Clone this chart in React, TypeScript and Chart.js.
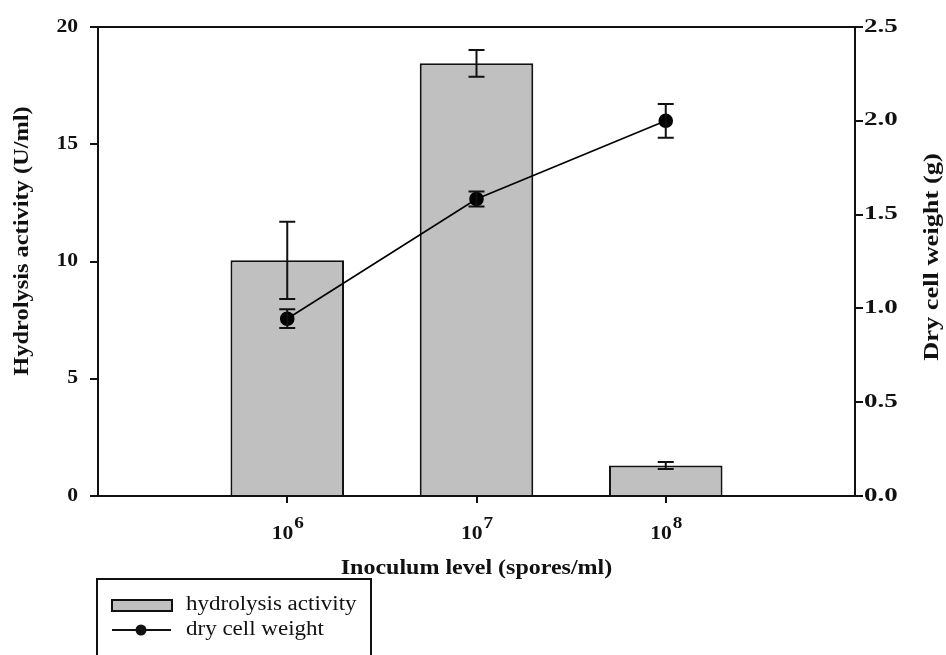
import React, { useEffect, useRef } from "react";
import { Chart, registerables } from "chart.js";

Chart.register(...registerables);

// Inoculum levels are powers of ten: 10^6, 10^7, 10^8 spores/ml
const inoculumBase = "10";
const inoculumExponents = ["6", "7", "8"];

// Hydrolysis activity (U/ml), mean and error
const hydrolysisActivity = [10.05, 18.45, 1.3];
const hydrolysisError = [1.65, 0.57, 0.15];

// Dry cell weight (g), mean and error
const dryCellWeight = [0.945, 1.583, 2.0];
const dryCellError = [0.05, 0.04, 0.09];

const xTitle = "Inoculum level (spores/ml)";
const yTitle = "Hydrolysis activity (U/ml)";
const y1Title = "Dry cell weight (g)";
const barLabel = "hydrolysis activity";
const lineLabel = "dry cell weight";

const SERIF = "'Liberation Serif', 'Times New Roman', serif";
const INK = "#111";
const BAR_FILL = "#c0c0c0";
const LINE_W = 2;

function drawText(
  ctx: CanvasRenderingContext2D,
  text: string,
  x: number,
  y: number,
  font: string,
  align: CanvasTextAlign,
  stretch: number,
  angle = 0
) {
  ctx.save();
  ctx.translate(x, y);
  ctx.rotate(angle);
  ctx.scale(stretch, 1);
  ctx.font = font;
  ctx.fillStyle = INK;
  ctx.textAlign = align;
  ctx.textBaseline = "middle";
  ctx.fillText(text, 0, 0);
  ctx.restore();
}

const errorBarPlugin = {
  id: "errorBars",
  afterDatasetDraw(chart: any, args: any) {
    const ds = chart.data.datasets[args.index];
    const errs: number[] | undefined = ds.errors;
    if (!errs) return;
    const meta = args.meta;
    const scale = chart.scales[meta.yAxisID];
    const ctx = chart.ctx;
    ctx.save();
    ctx.strokeStyle = INK;
    ctx.lineWidth = LINE_W;
    meta.data.forEach((el: any, i: number) => {
      const v = ds.data[i].y;
      const x = el.x;
      const yTop = scale.getPixelForValue(v + errs[i]);
      const yBot = scale.getPixelForValue(v - errs[i]);
      ctx.beginPath();
      ctx.moveTo(x, yTop);
      ctx.lineTo(x, yBot);
      ctx.moveTo(x - 8, yTop);
      ctx.lineTo(x + 8, yTop);
      ctx.moveTo(x - 8, yBot);
      ctx.lineTo(x + 8, yBot);
      ctx.stroke();
    });
    ctx.restore();
  },
};

const decorPlugin = {
  id: "decor",
  afterDraw(chart: any) {
    const ctx: CanvasRenderingContext2D = chart.ctx;
    const area = chart.chartArea;
    const { x, y, y1 } = chart.scales;

    // frame line along the top of the plot
    ctx.save();
    ctx.strokeStyle = INK;
    ctx.lineWidth = LINE_W;
    ctx.beginPath();
    ctx.moveTo(area.left, area.top);
    ctx.lineTo(area.right, area.top);
    ctx.stroke();
    ctx.restore();

    const tickFont = `bold 18px ${SERIF}`;
    const expFont = `bold 16px ${SERIF}`;
    const titleFont = `bold 20px ${SERIF}`;

    // left axis tick labels
    y.ticks.forEach((t: any) => {
      drawText(ctx, String(t.value), area.left - 20, y.getPixelForValue(t.value), tickFont, "right", 1.2);
    });
    // right axis tick labels
    y1.ticks.forEach((t: any) => {
      drawText(ctx, Number(t.value).toFixed(1), area.right + 9, y1.getPixelForValue(t.value), tickFont, "left", 1.5);
    });
    // x tick labels as powers of ten
    x.ticks.forEach((t: any, i: number) => {
      const exp = inoculumExponents[i];
      if (exp === undefined) return;
      ctx.save();
      ctx.font = tickFont;
      const wb = ctx.measureText(inoculumBase).width * 1.2;
      ctx.font = expFont;
      const we = ctx.measureText(exp).width * 1.2;
      ctx.restore();
      const cx = x.getPixelForValue(t.value);
      const start = cx - (wb + we) / 2;
      drawText(ctx, inoculumBase, start, area.bottom + 38, tickFont, "left", 1.2);
      drawText(ctx, exp, start + wb + 1, area.bottom + 28, expFont, "left", 1.2);
    });

    // axis titles
    drawText(ctx, xTitle, (area.left + area.right) / 2, area.bottom + 73, titleFont, "center", 1.2);
    drawText(ctx, yTitle, 23, 241, titleFont, "center", 1.22, -Math.PI / 2);
    drawText(ctx, y1Title, 933, 257, titleFont, "center", 1.32, -Math.PI / 2);

    // legend box
    const lx = 97;
    const ly = 579;
    ctx.save();
    ctx.strokeStyle = INK;
    ctx.lineWidth = LINE_W;
    ctx.strokeRect(lx, ly, 274, 90);
    ctx.fillStyle = BAR_FILL;
    ctx.fillRect(lx + 15, 600, 60, 11);
    ctx.strokeRect(lx + 15, 600, 60, 11);
    ctx.beginPath();
    ctx.moveTo(lx + 15, 630);
    ctx.lineTo(lx + 74, 630);
    ctx.stroke();
    ctx.fillStyle = INK;
    ctx.beginPath();
    ctx.arc(lx + 44, 630, 5.5, 0, Math.PI * 2);
    ctx.fill();
    ctx.restore();
    const legendFont = `20px ${SERIF}`;
    drawText(ctx, chart.data.datasets[0].label, lx + 89, 605, legendFont, "left", 1.15);
    drawText(ctx, chart.data.datasets[1].label, lx + 89, 630, legendFont, "left", 1.15);
  },
};

export default function App() {
  const canvasRef = useRef<HTMLCanvasElement | null>(null);

  useEffect(() => {
    const canvas = canvasRef.current;
    if (!canvas) return;
    const axisGrid = {
      display: true,
      drawOnChartArea: false,
      drawTicks: true,
      tickLength: 8,
      color: INK,
      lineWidth: LINE_W,
    };
    const axisBorder = { display: true, color: INK, width: LINE_W };

    const chart = new Chart(canvas, {
      type: "bar",
      data: {
        datasets: [
          {
            type: "bar",
            label: barLabel,
            data: hydrolysisActivity.map((v, i) => ({ x: i + 1, y: v })),
            errors: hydrolysisError,
            backgroundColor: BAR_FILL,
            borderColor: INK,
            borderWidth: LINE_W,
            barPercentage: 0.6,
            categoryPercentage: 1,
            yAxisID: "y",
            order: 2,
          } as any,
          {
            type: "line",
            label: lineLabel,
            data: dryCellWeight.map((v, i) => ({ x: i + 1, y: v })),
            errors: dryCellError,
            borderColor: "#000",
            borderWidth: 1.6,
            pointRadius: 6.5,
            pointBackgroundColor: "#000",
            pointBorderColor: "#000",
            tension: 0,
            yAxisID: "y1",
            order: 1,
          } as any,
        ],
      },
      options: {
        animation: false,
        responsive: false,
        devicePixelRatio: 1,
        layout: { padding: { top: 27, left: 0, right: 0, bottom: 0 } },
        plugins: { legend: { display: false }, tooltip: { enabled: false } },
        scales: {
          x: {
            type: "linear",
            min: 0,
            max: inoculumExponents.length + 1,
            offset: false,
            afterBuildTicks: (axis: any) => {
              axis.ticks = inoculumExponents.map((_, i) => ({ value: i + 1 }));
            },
            afterFit: (axis: any) => {
              axis.height = 159;
            },
            ticks: { display: false },
            grid: { ...axisGrid, tickLength: 7, offset: false },
            border: axisBorder,
          },
          y: {
            position: "left",
            min: 0,
            max: 20,
            ticks: { display: false, stepSize: 5 },
            afterFit: (axis: any) => {
              axis.width = 98;
            },
            grid: axisGrid,
            border: axisBorder,
          },
          y1: {
            position: "right",
            min: 0,
            max: 2.5,
            ticks: { display: false, stepSize: 0.5 },
            afterFit: (axis: any) => {
              axis.width = 91;
            },
            grid: axisGrid,
            border: axisBorder,
          },
        },
      } as any,
      plugins: [errorBarPlugin, decorPlugin],
    });
    return () => chart.destroy();
  }, []);

  return (
    <div style={{ position: "absolute", left: 0, top: 0, width: 946, height: 655, background: "#fff", overflow: "hidden" }}>
      <canvas ref={canvasRef} width={946} height={655} style={{ display: "block" }} />
    </div>
  );
}
